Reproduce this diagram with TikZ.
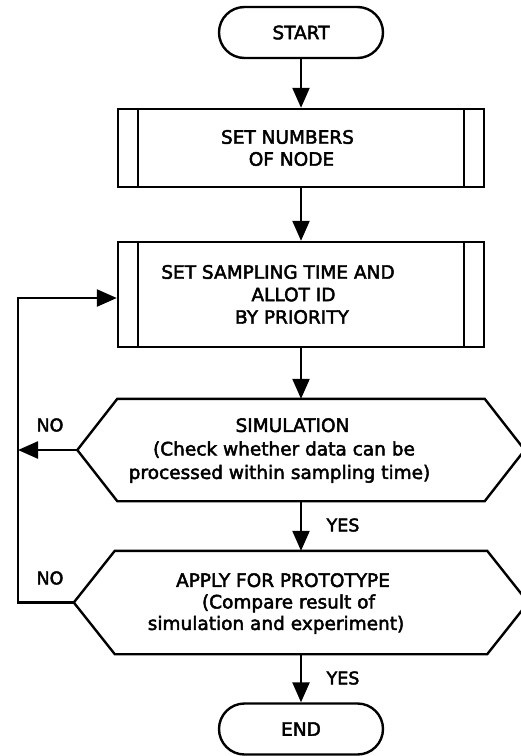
\documentclass[tikz,border=0pt]{standalone}
\usepackage{fontspec}
\setmainfont{DejaVu Sans}[FakeBold=2.5]
\usetikzlibrary{shapes.misc,arrows.meta}
\begin{document}
\begin{tikzpicture}[x=1pt,y=-1pt,line width=2.4pt,line join=miter,
  txt/.style={align=center,inner sep=0pt},
  term/.style={rounded rectangle,draw,minimum width=164pt,minimum height=51pt,inner sep=0pt,font=\fontsize{18.5}{22}\selectfont},
  proc/.style={draw,minimum width=366pt,inner sep=0pt},
  frame/.style={inner sep=0pt,minimum width=366pt,minimum height=100pt},
  flow/.style={-{Triangle[length=20pt,width=17pt]}},
  lbl/.style={inner sep=0pt,font=\fontsize{17.5}{20}\selectfont}]
\useasboundingbox (0,0) rectangle (521,756);

% terminals
\node[term] (start) at (301,32.5) {START};
\node[term] (end) at (301,729) {END};

% process boxes
\node[proc,minimum height=78pt] (setn) at (301,148) {};
\draw ([xshift=21pt]setn.north west) -- ([xshift=21pt]setn.south west);
\draw ([xshift=-21pt]setn.north east) -- ([xshift=-21pt]setn.south east);
\node[txt,font=\fontsize{18.5}{22}\selectfont] (setnt) at (289.5,148)
  {SET NUMBERS\hspace*{4pt}\\\hspace*{4pt}OF NODE};

\node[proc,minimum height=105pt] (setp) at (301,294.5) {};
\draw ([xshift=21pt]setp.north west) -- ([xshift=21pt]setp.south west);
\draw ([xshift=-21pt]setp.north east) -- ([xshift=-21pt]setp.south east);
\node[txt,font=\fontsize{18.5}{22.5}\selectfont] (setpt) at (288,294.5)
  {SET SAMPLING TIME AND\hspace*{20pt}\\\hspace*{11pt}ALLOT ID\\\hspace*{8pt}BY PRIORITY};

% decision hexagons
\node[frame,minimum width=365pt,minimum height=100pt] (sim) at (301,450) {};
\coordinate (simL) at ([xshift=-40pt]sim.west);
\coordinate (simR) at ([xshift=40pt]sim.east);
\draw (sim.north west) -- (sim.north east) -- (simR) -- (sim.south east) -- (sim.south west) -- (simL) -- cycle;
\node[txt,font=\fontsize{18.5}{23.5}\selectfont] (simt) at (284,450.5)
  {\hspace*{17pt}SIMULATION\\(Check whether data can be\hspace*{13pt}\\processed within sampling time)\hspace*{9pt}};

\node[frame,minimum width=370pt,minimum height=101pt] (app) at (301,602.5) {};
\coordinate (appL) at ([xshift=-41pt]app.west);
\coordinate (appR) at ([xshift=41pt]app.east);
\draw (app.north west) -- (app.north east) -- (appR) -- (app.south east) -- (app.south west) -- (appL) -- cycle;
\node[txt,font=\fontsize{18.5}{21.5}\selectfont] (appt) at (283,603.5)
  {APPLY FOR PROTOTYPE\\\hspace*{11pt}(Compare result of\\simulation and experiment)\hspace*{14pt}};

% main flow
\draw[flow] (start.south) -- (setn.north);
\draw[flow] (setn.south) -- (setp.north);
\draw[flow] (setp.south) -- (sim.north);
\draw[flow] (sim.south) -- (app.north);
\draw[flow] (app.south) -- (end.north);

% feedback
\coordinate (fbtop) at (18,298);
\draw[flow] (simL) -- (simL -| fbtop);
\draw[flow] (appL) -- (appL -| fbtop) -- (fbtop) -- (fbtop -| setp.west);

% labels
\node[lbl] (no1) at (50,425) {NO};
\node[lbl] (no2) at (50,578) {NO};
\node[lbl] (yes1) at (343,525) {YES};
\node[lbl] (yes2) at (343,678) {YES};
\end{tikzpicture}
\end{document}
